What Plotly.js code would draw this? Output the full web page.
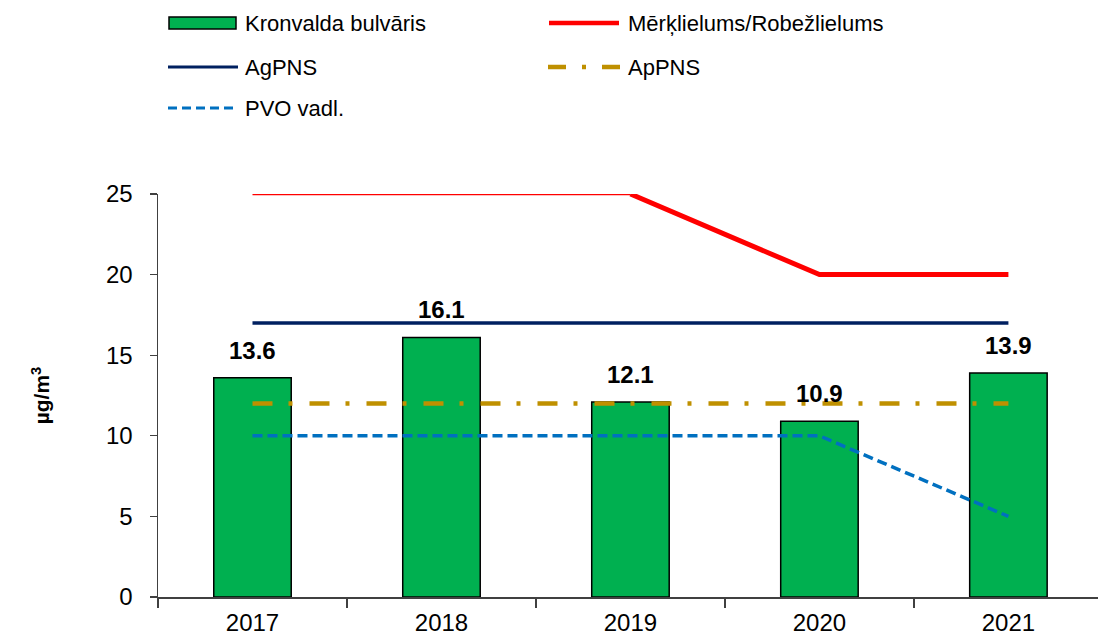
<!DOCTYPE html>
<html>
<head>
<meta charset="utf-8">
<script src="https://cdn.plot.ly/plotly-3.0.1.min.js"></script>
<style>html,body{margin:0;padding:0;background:#fff;}#chart{width:1098px;height:638px;}</style>
</head>
<body>
<div id="chart"></div>
<script>
// ---- data ----
const years = ['2017', '2018', '2019', '2020', '2021'];
const kronvalda = [13.6, 16.1, 12.1, 10.9, 13.9];
const merkRobez = [25, 25, 25, 20, 20];
const agPNS = [17, 17, 17, 17, 17];
const apPNS = [12, 12, 12, 12, 12];
const pvoVadl = [10, 10, 10, 10, 5];
const seriesNames = ['Kronvalda bulvāris', 'Mērķlielums/Robežlielums', 'AgPNS', 'ApPNS', 'PVO vadl.'];
const yTicks = [0, 5, 10, 15, 20, 25];

// ---- styles ----
const FONT = 'Liberation Sans, Arial, sans-serif';
const cGreen = '#00B050', cRed = '#FF0000', cNavy = '#002060', cGold = '#BF9000', cBlue = '#0070C0';
const L = 158, R = 1098, T = 194, B = 597;
const px = x => (x - L) / (R - L);
const py = y => (B - y) / (B - T);

const traces = [
  {type: 'bar', x: years, y: kronvalda, name: seriesNames[0], width: 0.41,
   marker: {color: cGreen, line: {color: '#000', width: 1.5}}, showlegend: false, hoverinfo: 'x+y'},
  {type: 'scatter', mode: 'lines', x: years.slice(0, 3), y: merkRobez.slice(0, 3), name: seriesNames[1],
   line: {color: cRed, width: 2.5}, showlegend: false, cliponaxis: false},
  {type: 'scatter', mode: 'lines', x: years.slice(2), y: merkRobez.slice(2), name: seriesNames[1],
   line: {color: cRed, width: 5}, showlegend: false, cliponaxis: false},
  {type: 'scatter', mode: 'lines', x: years, y: agPNS, name: seriesNames[2],
   line: {color: cNavy, width: 3.5}, showlegend: false},
  {type: 'scatter', mode: 'lines', x: years, y: apPNS, name: seriesNames[3],
   line: {color: cGold, width: 4.5, dash: '20px,16px,4px,17px'}, showlegend: false},
  {type: 'scatter', mode: 'lines', x: years, y: pvoVadl, name: seriesNames[4],
   line: {color: cBlue, width: 3.5, dash: '10px,5px'}, showlegend: false}
];

const annotations = years.map((yr, i) => ({
  x: i, y: kronvalda[i], xref: 'x', yref: 'y', text: '<b>' + kronvalda[i].toFixed(1) + '</b>',
  showarrow: false, yanchor: 'bottom', yshift: 12,
  font: {family: FONT, size: 24, color: '#000'}
}));

// manual legend
const legRows = [23, 67, 108];
const shapes = [];
function legText(name, x, y) {
  annotations.push({xref: 'paper', yref: 'paper', x: px(x), y: py(y), text: name, showarrow: false,
    xanchor: 'left', yanchor: 'middle', font: {family: FONT, size: 22, color: '#000'}});
}
shapes.push({type: 'rect', xref: 'paper', yref: 'paper', x0: px(169), x1: px(236), y0: py(17), y1: py(29),
  fillcolor: cGreen, line: {color: '#000', width: 1.5}});
legText(seriesNames[0], 243, legRows[0]);
shapes.push({type: 'line', xref: 'paper', yref: 'paper', x0: px(549), x1: px(619), y0: py(legRows[0]), y1: py(legRows[0]),
  line: {color: cRed, width: 4.5}});
legText(seriesNames[1], 626, legRows[0]);
shapes.push({type: 'line', xref: 'paper', yref: 'paper', x0: px(168), x1: px(238), y0: py(legRows[1]), y1: py(legRows[1]),
  line: {color: cNavy, width: 3}});
legText(seriesNames[2], 243, legRows[1]);
shapes.push({type: 'line', xref: 'paper', yref: 'paper', x0: px(548), x1: px(620), y0: py(legRows[1]), y1: py(legRows[1]),
  line: {color: cGold, width: 4.5, dash: '18px,16px,4px,16px'}});
legText(seriesNames[3], 626, legRows[1]);
shapes.push({type: 'line', xref: 'paper', yref: 'paper', x0: px(168), x1: px(238), y0: py(legRows[2]), y1: py(legRows[2]),
  line: {color: cBlue, width: 3, dash: '9px,5px'}});
legText(seriesNames[4], 243, legRows[2]);

const layout = {
  width: 1098, height: 638,
  margin: {l: L, r: 1098 - R, t: T, b: 638 - B, pad: 0},
  paper_bgcolor: '#fff', plot_bgcolor: '#fff',
  showlegend: false,
  font: {family: FONT, color: '#000'},
  bargap: 0.59,
  xaxis: {type: 'category', range: [-0.5, 4.474], showgrid: false, zeroline: false,
    showline: true, linecolor: '#404040', linewidth: 1.5,
    ticks: 'outside', tickson: 'boundaries', ticklen: 9, tickcolor: '#404040', tickwidth: 1.2,
    tickfont: {family: FONT, size: 24, color: '#000'}, ticklabelstandoff: 4, fixedrange: true},
  yaxis: {range: [0, 25], tickvals: yTicks, showgrid: false, zeroline: false,
    showline: true, linecolor: '#404040', linewidth: 1.5,
    ticks: 'outside', ticklen: 7, tickcolor: '#404040', tickwidth: 1.2,
    tickfont: {family: FONT, size: 24, color: '#000'}, ticklabelstandoff: 12,
    title: {text: '<b>µg/m<sup>3</sup></b>', font: {family: FONT, size: 21, color: '#000'}, standoff: 50},
    fixedrange: true},
  annotations: annotations,
  shapes: shapes
};

Plotly.newPlot('chart', traces, layout, {displayModeBar: false, staticPlot: true});
</script>
</body>
</html>
